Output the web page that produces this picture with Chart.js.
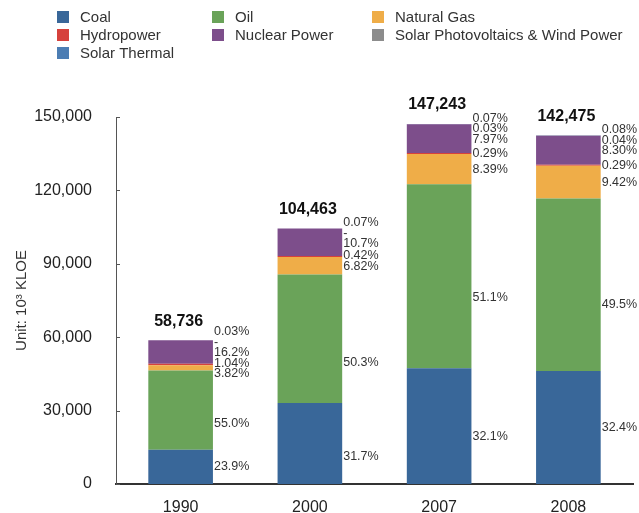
<!DOCTYPE html>
<html>
<head>
<meta charset="utf-8">
<script src="https://cdn.jsdelivr.net/npm/chart.js@4"></script>
<style>
  html, body { margin: 0; padding: 0; background: #fff; }
  #wrap { width: 639px; height: 513px; position: relative; }
</style>
</head>
<body>
<div id="wrap"><canvas id="c" width="639" height="513"></canvas></div>
<script>
// Primary energy supply by source, totals in 10^3 KLOE, shares in %
const years = ['1990', '2000', '2007', '2008'];
const totals = [58736, 104463, 147243, 142475];

const coalShare = [23.9, 31.7, 32.1, 32.4];
const oilShare = [55.0, 50.3, 51.1, 49.5];
const gasShare = [3.82, 6.82, 8.39, 9.42];
const hydroShare = [1.04, 0.42, 0.29, 0.29];
const nuclearShare = [16.2, 10.7, 7.97, 8.30];
const pvWindShare = [null, null, 0.03, 0.04];   // null = no supply ("-")
const solarThermalShare = [0.03, 0.07, 0.07, 0.08];

const yTicks = [0, 30000, 60000, 90000, 120000, 150000];

const series = [
  { label: 'Coal', share: coalShare, color: '#396799' },
  { label: 'Oil', share: oilShare, color: '#6aa359' },
  { label: 'Natural Gas', share: gasShare, color: '#efad48' },
  { label: 'Hydropower', share: hydroShare, color: '#d6413c' },
  { label: 'Nuclear Power', share: nuclearShare, color: '#7d4e8b' },
  { label: 'Solar Photovoltaics & Wind Power', share: pvWindShare, color: '#8c8c8c' },
  { label: 'Solar Thermal', share: solarThermalShare, color: '#4c7db3' }
];

const FONT = '"Liberation Sans", Arial, Helvetica, sans-serif';

function fmtShare(v) {
  if (v === null) return '-';
  return (v >= 1 ? v.toPrecision(3) : v.toFixed(2)) + '%';
}

const datasets = series.map(s => ({
  label: s.label,
  data: s.share.map((p, i) => (p === null ? 0 : totals[i] * p / 100)),
  shareText: s.share.map(fmtShare),
  backgroundColor: s.color,
  borderWidth: 0,
  barPercentage: 0.5,
  categoryPercentage: 1.0
}));

// Legend laid out in three columns above the plot
const gridLegend = {
  id: 'gridLegend',
  afterDraw(chart, args, opts) {
    const ctx = chart.ctx;
    ctx.save();
    ctx.font = opts.fontSize + 'px ' + FONT;
    ctx.textBaseline = 'middle';
    ctx.textAlign = 'left';
    chart.data.datasets.forEach((ds, k) => {
      const col = k % 3, row = Math.floor(k / 3);
      const x = opts.cols[col], y = opts.rows[row];
      ctx.fillStyle = ds.backgroundColor;
      ctx.fillRect(x, y - opts.box / 2, opts.box, opts.box);
      ctx.fillStyle = '#333';
      ctx.fillText(ds.label, x + opts.textGap, y + 0.5);
    });
    ctx.restore();
  }
};

// Share labels beside each bar and the total above it
const barLabels = {
  id: 'barLabels',
  afterDatasetsDraw(chart, args, opts) {
    const ctx = chart.ctx;
    const metas = chart.data.datasets.map((d, k) => chart.getDatasetMeta(k));
    ctx.save();
    ctx.textAlign = 'left';
    ctx.textBaseline = 'middle';
    years.forEach((yr, i) => {
      const els = metas.map(m => m.data[i].getProps(['x', 'y', 'base', 'width'], true));
      const right = els[0].x + els[0].width / 2 + 1;
      ctx.font = opts.fontSize + 'px ' + FONT;
      ctx.fillStyle = '#333';
      // coal and oil: inside their own segment heights
      [0, 1].forEach(k => {
        const e = els[k];
        const y = (e.y + e.base) / 2 + opts.bigShift[k][i];
        ctx.fillText(chart.data.datasets[k].shareText[i], right, y);
      });
      // the thin upper segments: centred, spread apart to stay readable
      const items = [2, 3, 4, 5, 6].map(k => ({ k, y: (els[k].y + els[k].base) / 2 }));
      items.sort((a, b) => a.y - b.y || b.k - a.k);
      for (let it = 0; it < 60; it++) {
        for (let j = 0; j < items.length - 1; j++) {
          const d = items[j + 1].y - items[j].y;
          if (d < opts.gap) {
            const p = (opts.gap - d) / 2;
            items[j].y -= p;
            items[j + 1].y += p;
          }
        }
      }
      items.forEach(o => ctx.fillText(chart.data.datasets[o.k].shareText[i], right, o.y));
      // total
      const top = els[6].y;
      ctx.font = 'bold ' + opts.totalSize + 'px ' + FONT;
      ctx.fillStyle = '#111';
      ctx.textAlign = 'center';
      ctx.fillText(totals[i].toLocaleString('en-US'), els[0].x - 2, top - opts.totalLift);
      ctx.textAlign = 'left';
    });
    ctx.restore();
  }
};

// Short inward tick marks on the value axis
const yTickMarks = {
  id: 'yTickMarks',
  afterDraw(chart) {
    const ctx = chart.ctx, y = chart.scales.y, x0 = chart.chartArea.left;
    ctx.save();
    ctx.strokeStyle = '#555';
    ctx.lineWidth = 1;
    y.ticks.forEach(t => {
      const py = Math.round(y.getPixelForValue(t.value)) + 0.5;
      ctx.beginPath();
      ctx.moveTo(x0, py);
      ctx.lineTo(x0 + 4, py);
      ctx.stroke();
    });
    ctx.restore();
  }
};

new Chart(document.getElementById('c'), {
  type: 'bar',
  data: { labels: years, datasets },
  plugins: [gridLegend, barLabels, yTickMarks],
  options: {
    responsive: false,
    animation: false,
    layout: { padding: { top: 117, right: 6, bottom: 0, left: 0 } },
    plugins: {
      legend: { display: false },
      tooltip: { enabled: false },
      gridLegend: { cols: [57, 212, 372], rows: [17, 35, 53], box: 12, textGap: 23, fontSize: 15 },
      barLabels: {
        fontSize: 12.5, gap: 10.5, totalSize: 16, totalLift: 19,
        bigShift: [[0, 13, 10, 0], [13, 24, 21, 20]]
      }
    },
    scales: {
      x: {
        stacked: true,
        grid: { display: false },
        border: { display: true, color: '#333', width: 2 },
        ticks: { color: '#222', font: { family: FONT, size: 16 }, padding: 6 },
        afterFit(scale) { scale.height = 29; }
      },
      y: {
        stacked: true,
        min: 0,
        max: 150000,
        afterBuildTicks(scale) { scale.ticks = yTicks.map(v => ({ value: v })); },
        grid: { display: false },
        border: { display: true, color: '#555', width: 1 },
        ticks: {
          color: '#222',
          font: { family: FONT, size: 16 },
          padding: 16,
          callback: v => v.toLocaleString('en-US')
        },
        title: {
          display: true,
          text: 'Unit: 10\u00B3 KLOE',
          color: '#333',
          font: { family: FONT, size: 15 },
          padding: { top: 13, bottom: 0 }
        },
        afterFit(scale) { scale.width = 116; }
      }
    }
  }
});
</script>
</body>
</html>
